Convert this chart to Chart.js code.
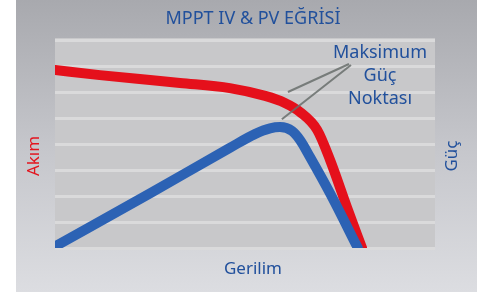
<!DOCTYPE html>
<html>
<head>
<meta charset="utf-8">
<script src="https://cdn.jsdelivr.net/npm/chart.js@4"></script>
<style>
  body { margin: 0; background: #fff; }
  #wrap { width: 482px; height: 295px; position: relative; }
</style>
</head>
<body>
<div id="wrap"><canvas id="chart"></canvas></div>
<script>
// values (voltage in %, current / power in grid units)
const voltage = [0, 11.8, 25, 32.9, 46, 55.3, 60.5, 64.5, 69, 72.4, 76.8, 80.8];
const current = [6.85, 6.65, 6.46, 6.35, 6.15, 5.85, 5.58, 5.23, 4.54, 3.38, 1.58, 0];

const powerVoltage = [0.5, 25, 46, 52.6, 56.6, 59.2, 62.4, 64.5, 67.1, 72.4, 79.7];
const power = [0.1, 2.1, 3.85, 4.38, 4.6, 4.65, 4.5, 4.15, 3.5, 2.1, 0];

const titleText = 'MPPT IV & PV EĞRİSİ';
const xLabel = 'Gerilim';
const yLabel = 'Akım';
const y2Label = 'Güç';
const noteLines = ['Maksimum', 'Güç', 'Noktası'];
// points the note is pointing at: [voltage, value]
const notePointIV = [61.3, 6.0];
const notePointPV = [59.7, 4.95];

const RED = '#e5101b';
const BLUE = '#2c62b4';
const TEXT_BLUE = '#21509c';
const FONT = '"Noto Sans", sans-serif';

function toPoints(xs, ys) {
    return xs.map((x, i) => ({ x: x, y: ys[i] }));
}

const decor = {
    id: 'decor',
    beforeDraw(chart) {
        const ctx = chart.ctx;
        const a = chart.chartArea;
        ctx.save();
        ctx.fillStyle = '#fff';
        ctx.fillRect(0, 0, chart.width, chart.height);
        const g = ctx.createLinearGradient(0, 0, 0, 292);
        g.addColorStop(0, '#a8a9ae');
        g.addColorStop(0.5, '#c5c6cb');
        g.addColorStop(1, '#dcdde1');
        ctx.fillStyle = g;
        ctx.fillRect(16, 0, 461, 292);
        ctx.fillStyle = '#c8c8ca';
        ctx.fillRect(a.left, a.top - 2, a.right - a.left, a.bottom - a.top + 4);
        ctx.restore();
    },
    afterDatasetsDraw(chart) {
        const ctx = chart.ctx;
        const a = chart.chartArea;
        const x = chart.scales.x, y = chart.scales.y, y2 = chart.scales.y2;
        ctx.save();

        // note pointer lines
        const ox = 349, oy = 64;
        ctx.strokeStyle = 'rgba(105,110,108,0.85)';
        ctx.lineWidth = 2;
        ctx.beginPath();
        ctx.moveTo(ox, oy);
        ctx.lineTo(x.getPixelForValue(notePointIV[0]), y.getPixelForValue(notePointIV[1]));
        ctx.moveTo(ox + 2, oy + 1);
        ctx.lineTo(x.getPixelForValue(notePointPV[0]), y2.getPixelForValue(notePointPV[1]));
        ctx.stroke();

        ctx.textAlign = 'center';
        ctx.textBaseline = 'middle';
        ctx.fillStyle = TEXT_BLUE;
        ctx.font = '18px ' + FONT;
        ctx.fillText(titleText, 253, 19);

        ctx.font = '18px ' + FONT;
        noteLines.forEach((t, i) => ctx.fillText(t, 380, 53 + i * 23));

        ctx.font = '17px ' + FONT;
        ctx.fillText(xLabel, 253, 269);

        ctx.save();
        ctx.translate(34, 156);
        ctx.rotate(-Math.PI / 2);
        ctx.fillStyle = '#e3151f';
        ctx.font = '17px ' + FONT;
        ctx.fillText(yLabel, 0, 0);
        ctx.restore();

        ctx.save();
        ctx.translate(452, 156);
        ctx.rotate(-Math.PI / 2);
        ctx.font = '17px ' + FONT;
        ctx.fillText(y2Label, 0, 0);
        ctx.restore();

        ctx.restore();
    }
};

new Chart(document.getElementById('chart'), {
    type: 'line',
    data: {
        datasets: [
            {
                label: 'PV',
                data: toPoints(powerVoltage, power),
                yAxisID: 'y2',
                borderColor: BLUE,
                borderWidth: 10,
                borderCapStyle: 'round',
                borderJoinStyle: 'round',
                cubicInterpolationMode: 'monotone',
                pointRadius: 0,
                fill: false
            },
            {
                label: 'IV',
                data: toPoints(voltage, current),
                yAxisID: 'y',
                borderColor: RED,
                borderWidth: 10,
                borderCapStyle: 'round',
                borderJoinStyle: 'round',
                cubicInterpolationMode: 'monotone',
                pointRadius: 0,
                fill: false
            }
        ]
    },
    plugins: [decor],
    options: {
        responsive: true,
        maintainAspectRatio: false,
        animation: false,
        layout: { padding: { left: 55, right: 47, top: 40, bottom: 47 } },
        plugins: {
            legend: { display: false },
            tooltip: { enabled: false },
            title: { display: false }
        },
        scales: {
            x: { type: 'linear', min: 0, max: 100, display: false },
            y: {
                min: 0, max: 8,
                ticks: { display: false, stepSize: 1 },
                border: { display: false },
                grid: { color: '#dadadb', lineWidth: 3, drawTicks: false }
            },
            y2: { min: 0, max: 8, display: false }
        }
    }
});
</script>
</body>
</html>
